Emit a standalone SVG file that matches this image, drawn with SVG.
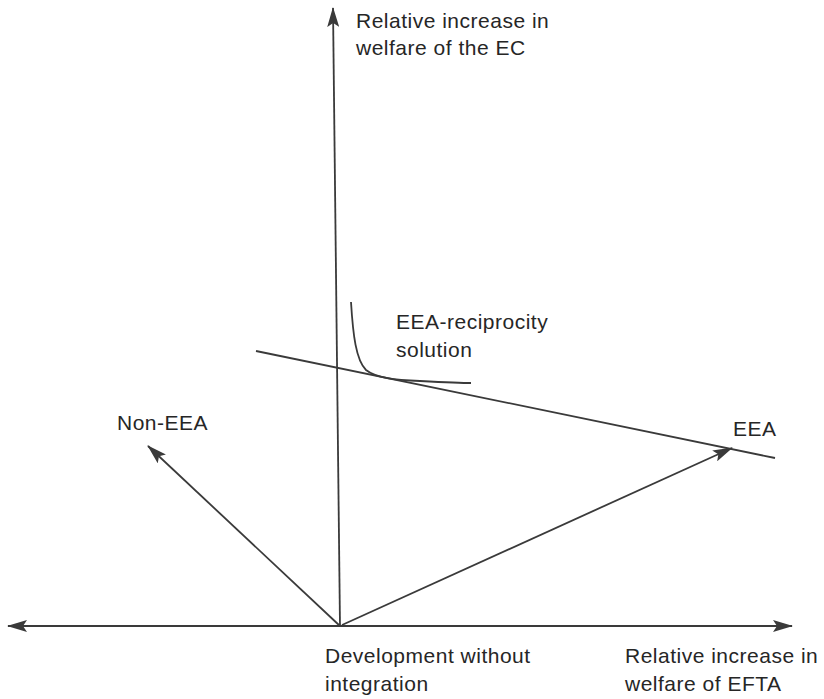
<svg xmlns="http://www.w3.org/2000/svg" width="824" height="699" viewBox="0 0 824 699">
<style>
.ln{stroke:#3a3a3a;stroke-width:1.8;fill:none}
.t{font-family:"Liberation Sans",Arial,sans-serif;font-size:21px;fill:#262626;letter-spacing:0.5px}
</style>
<defs>
<marker id="ah" markerWidth="20" markerHeight="12" refX="19" refY="6" orient="auto" markerUnits="userSpaceOnUse">
<path d="M0,0 L20,6 L0,12 L4,6 Z" fill="#3a3a3a"/>
</marker>
</defs>
<rect width="824" height="699" fill="#ffffff"/>
<g id="connectors">
<line id="y-axis" class="ln" x1="340" y1="627" x2="333" y2="8" marker-end="url(#ah)"/>
<line id="x-axis-right" class="ln" x1="340" y1="626" x2="792" y2="626" marker-end="url(#ah)"/>
<line id="x-axis-left" class="ln" x1="340" y1="626" x2="8" y2="626" marker-end="url(#ah)"/>
<line id="non-eea-arrow" class="ln" x1="340" y1="626" x2="148" y2="446" marker-end="url(#ah)"/>
<line id="eea-arrow" class="ln" x1="342" y1="625" x2="732" y2="448" marker-end="url(#ah)"/>
<line id="budget-line" class="ln" x1="256" y1="351" x2="775" y2="458"/>
<path id="indifference-curve" class="ln" d="M351,302 C353,335 356,360 366,370 C376,378 395,380 420,381 C440,382 460,383 471,383"/>
</g>
<g id="label-y-axis">
<text class="t" x="356" y="28">Relative increase in</text>
<text class="t" x="356" y="55">welfare of the EC</text>
</g>
<g id="label-eea-reciprocity">
<text class="t" x="396" y="329">EEA-reciprocity</text>
<text class="t" x="396" y="357">solution</text>
</g>
<g id="label-non-eea">
<text class="t" x="117" y="430">Non-EEA</text>
</g>
<g id="label-eea">
<text class="t" x="733" y="436">EEA</text>
</g>
<g id="label-origin">
<text class="t" x="325" y="663">Development without</text>
<text class="t" x="325" y="691">integration</text>
</g>
<g id="label-x-axis">
<text class="t" x="625" y="663">Relative increase in</text>
<text class="t" x="625" y="691">welfare of EFTA</text>
</g>
</svg>
